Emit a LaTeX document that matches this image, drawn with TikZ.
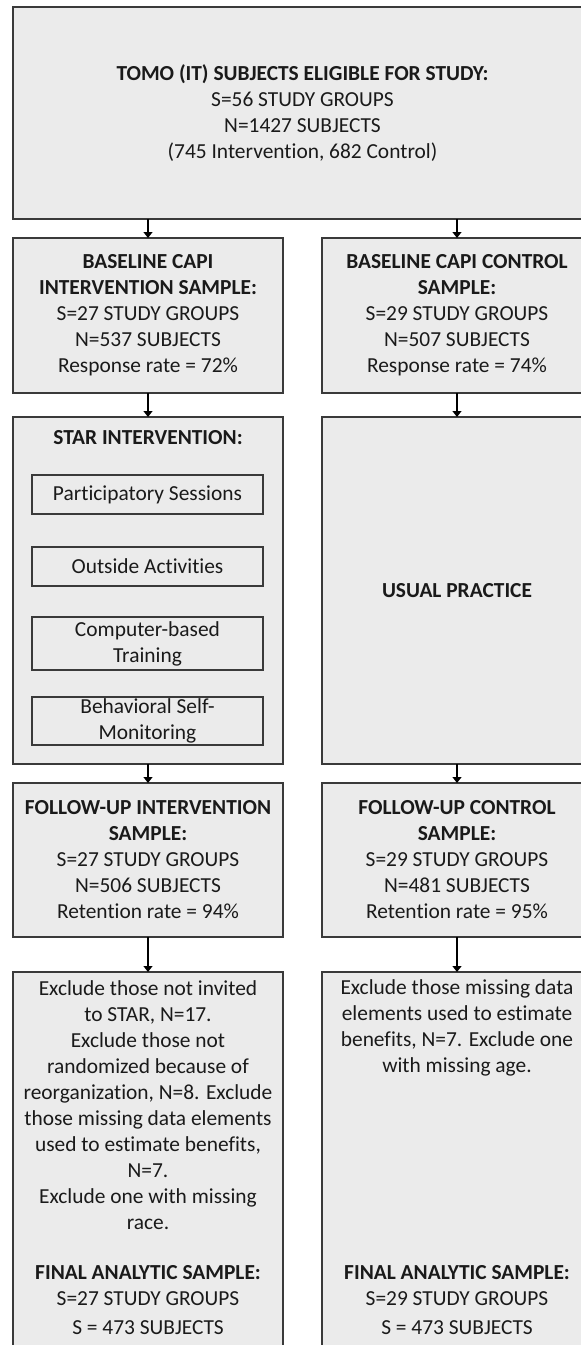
\documentclass[tikz,border=0pt]{standalone}
\usepackage{fontspec}
\setmainfont{Carlito}[Ligatures=NoCommon]
\usetikzlibrary{arrows.meta}
\definecolor{boxfill}{HTML}{EBEBEB}
\definecolor{boxline}{HTML}{3A3A3A}
\definecolor{txt}{HTML}{1A1A1A}
\tikzset{
  panel/.style={draw=boxline, line width=1.3pt, fill=boxfill, rectangle, inner sep=0pt, outer sep=0pt,
    text=txt, align=center, font=\fontsize{21.4}{26}\selectfont},
  subbox/.style={draw=boxline, line width=1.3pt, fill=boxfill, rectangle, inner sep=0pt, outer sep=0pt,
    minimum width=231pt, text=txt, align=center, font=\fontsize{21.4}{26}\selectfont},
  lbl/.style={text=txt, align=center, font=\fontsize{21.4}{26}\selectfont, inner sep=0pt},
  flow/.style={draw=black, line width=1.2pt, -{Triangle[length=6pt,width=9pt]}},
}
\begin{document}
\begin{tikzpicture}[x=1pt,y=-1pt]
\clip (0,0) rectangle (581,1345);
\fill[white] (0,0) rectangle (581,1345);

% top
\node[panel, minimum width=579pt, minimum height=212pt] (top) at (302.5,113)
  {\textbf{TOMO (IT) SUBJECTS ELIGIBLE FOR STUDY:}\\S=56 STUDY GROUPS\\N=1427 SUBJECTS\\(745 Intervention, 682 Control)};

% baseline
\node[panel, minimum width=270pt, minimum height=155pt] (bl) at (148,315.5)
  {\textbf{BASELINE CAPI}\\\textbf{INTERVENTION SAMPLE:}\\S=27 STUDY GROUPS\\N=537 SUBJECTS\\Response rate = 72\%};
\node[panel, minimum width=270pt, minimum height=155pt] (br) at (457,315.5)
  {\textbf{BASELINE CAPI CONTROL}\\\textbf{SAMPLE:}\\S=29 STUDY GROUPS\\N=507 SUBJECTS\\Response rate = 74\%};

% intervention / usual practice
\node[panel, minimum width=270pt, minimum height=347pt] (star) at (148,590.5) {};
\node[lbl] (startitle) at (148,438) {\textbf{STAR INTERVENTION:}};
\node[subbox, minimum height=39pt] (s1) at (147.5,494.5) {Participatory Sessions};
\node[subbox, minimum height=39pt] (s2) at (147.5,566.5) {Outside Activities};
\node[subbox, minimum height=53pt] (s3) at (147.5,643.5) {Computer-based\\Training};
\node[subbox, minimum height=48pt] (s4) at (147.5,721) {Behavioral Self-\\Monitoring};
\node[panel, minimum width=270pt, minimum height=347pt] (usual) at (457,590.5) {\textbf{USUAL PRACTICE}};

% follow-up
\node[panel, minimum width=270pt, minimum height=154pt] (fl) at (148,860)
  {\textbf{FOLLOW-UP INTERVENTION}\\\textbf{SAMPLE:}\\S=27 STUDY GROUPS\\N=506 SUBJECTS\\Retention rate = 94\%};
\node[panel, minimum width=270pt, minimum height=154pt] (fr) at (457,860)
  {\textbf{FOLLOW-UP CONTROL}\\\textbf{SAMPLE:}\\S=29 STUDY GROUPS\\N=481 SUBJECTS\\Retention rate = 95\%};

% final
\node[panel, minimum width=270pt, minimum height=388pt] (xl) at (148,1166) {};
\node[panel, minimum width=270pt, minimum height=388pt] (xr) at (457,1166) {};
\node[lbl] (xltext) at (148,1105)
  {Exclude those not invited\\to STAR, N=17.\\Exclude those not\\randomized because of\\reorganization, N=8. Exclude\\those missing data elements\\used to estimate benefits,\\N=7.\\Exclude one with missing\\race.};
\node[lbl] (xrtext) at (457,1028)
  {Exclude those missing data\\elements used to estimate\\benefits, N=7. Exclude one\\with missing age.};
\node[lbl] (xlfinal) at (148,1300)
  {\textbf{FINAL ANALYTIC SAMPLE:}\\S=27 STUDY GROUPS\\[3pt]S = 473 SUBJECTS};
\node[lbl] (xrfinal) at (457,1300)
  {\textbf{FINAL ANALYTIC SAMPLE:}\\S=29 STUDY GROUPS\\[3pt]S = 473 SUBJECTS};

% connectors
\draw[flow] (top.south -| bl.north) -- (bl.north);
\draw[flow] (top.south -| br.north) -- (br.north);
\draw[flow] (bl.south) -- (star.north);
\draw[flow] (br.south) -- (usual.north);
\draw[flow] (star.south) -- (fl.north);
\draw[flow] (usual.south) -- (fr.north);
\draw[flow] (fl.south) -- (xl.north);
\draw[flow] (fr.south) -- (xr.north);
\end{tikzpicture}
\end{document}
